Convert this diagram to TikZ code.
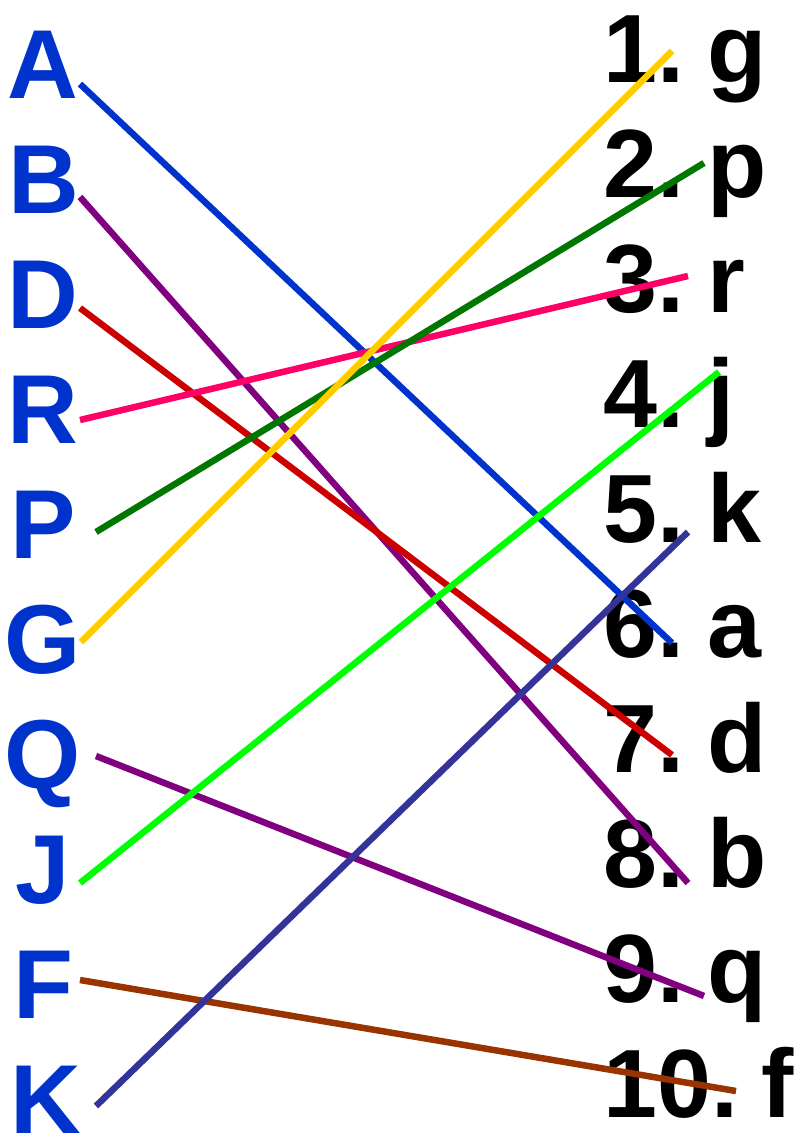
\documentclass[tikz,border=0pt]{standalone}
\usepackage{fontspec}
\setmainfont{Liberation Sans}
\begin{document}
\begin{tikzpicture}[x=1pt,y=-1pt,
  lefttxt/.style={font=\fontsize{98}{98}\bfseries\selectfont, text=letterblue, anchor=base, inner sep=0pt},
  righttxt/.style={font=\fontsize{97}{97}\bfseries\selectfont, text=black, anchor=base west, inner sep=0pt},
  link/.style={line width=6.5pt}]
\definecolor{letterblue}{HTML}{0033CC}
\definecolor{cA}{HTML}{0033CC}
\definecolor{cB}{HTML}{800080}
\definecolor{cD}{HTML}{CC0000}
\definecolor{cR}{HTML}{FF0066}
\definecolor{cP}{HTML}{007700}
\definecolor{cG}{HTML}{FFCC00}
\definecolor{cJ}{HTML}{00FF00}
\definecolor{cF}{HTML}{993300}
\definecolor{cK}{HTML}{333399}
\newcommand{\gapsp}{\hspace{23pt}}
\useasboundingbox (0,0) rectangle (799,1135);
% left letters
\node[lefttxt] (A) at (43,98) {A};
\node[lefttxt] (B) at (44,213) {B};
\node[lefttxt] (D) at (43,328) {D};
\node[lefttxt] (R) at (43,443) {R};
\node[lefttxt] (P) at (43,558) {P};
\node[lefttxt] (G) at (43,673) {G};
\node[lefttxt] (Q) at (43,788) {Q};
\node[lefttxt] (J) at (43,903) {J};
\node[lefttxt] (F) at (43,1018) {F};
\node[lefttxt] (K) at (46,1133) {K};
% right labels
\node[righttxt] (n1) at (603,82) {1.\gapsp g};
\node[righttxt] (n2) at (603,197) {2.\gapsp p};
\node[righttxt] (n3) at (603,312) {3.\gapsp r};
\node[righttxt] (n4) at (603,427) {4.\gapsp j};
\node[righttxt] (n5) at (603,542) {5.\gapsp k};
\node[righttxt] (n6) at (603,657) {6.\gapsp a};
\node[righttxt] (n7) at (603,772) {7.\gapsp d};
\node[righttxt] (n8) at (603,887) {8.\gapsp b};
\node[righttxt] (n9) at (603,1002) {9.\gapsp q};
\node[righttxt] (n10) at (603,1117) {10.\gapsp f};
% line ends
\coordinate (sA) at (80,84);   \coordinate (eA) at (672,643);
\coordinate (sB) at (80,197);  \coordinate (eB) at (688,883);
\coordinate (sD) at (80,308);  \coordinate (eD) at (672,755);
\coordinate (sR) at (80,420);  \coordinate (eR) at (688,276);
\coordinate (sP) at (96,532);  \coordinate (eP) at (704,163);
\coordinate (sG) at (81,642);  \coordinate (eG) at (672,51);
\coordinate (sQ) at (96,756);  \coordinate (eQ) at (704,996);
\coordinate (sJ) at (80,883);  \coordinate (eJ) at (719,372);
\coordinate (sF) at (80,980);  \coordinate (eF) at (736,1091);
\coordinate (sK) at (96,1106); \coordinate (eK) at (688,532);
\draw[link,cA] (sA) -- (eA);
\draw[link,cB] (sB) -- (eB);
\draw[link,cD] (sD) -- (eD);
\draw[link,cR] (sR) -- (eR);
\draw[link,cP] (sP) -- (eP);
\draw[link,cG] (sG) -- (eG);
\draw[link,cB] (sQ) -- (eQ);
\draw[link,cJ] (sJ) -- (eJ);
\draw[link,cF] (sF) -- (eF);
\draw[link,cK] (sK) -- (eK);
\end{tikzpicture}
\end{document}
